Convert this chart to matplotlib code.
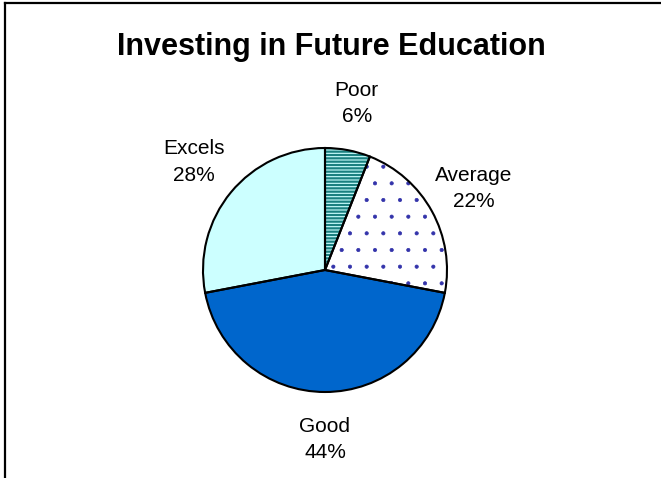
import numpy as np
import matplotlib
matplotlib.use("Agg")
import matplotlib.pyplot as plt
from matplotlib.lines import Line2D

plt.rcParams['font.family'] = ['Liberation Sans', 'DejaVu Sans']
plt.rcParams['hatch.linewidth'] = 1.6

categories = ['Poor', 'Average', 'Good', 'Excels']
shares = [6, 22, 44, 28]
face_colors = ['#CCFFFF', '#FFFFFF', '#0066CC', '#CCFFFF']
hatch_colors = ['#1A8080', '#3333AA', '#0066CC', '#CCFFFF']
hatches = ['-----', '.', '', '']
hatch_widths = [1.6, 0.5, 1.0, 1.0]

W, H = 661, 478
fig = plt.figure(figsize=(W / 100, H / 100), dpi=100)

# pie centre ~ (325, 270) px, radius ~ 122 px
cx, cy, r = 325, 270, 122
ax = fig.add_axes([(cx - r) / W, (H - cy - r) / H, 2 * r / W, 2 * r / H])

# fill + hatch pass
wedges, _ = ax.pie(shares, startangle=90, counterclock=False, radius=1,
                   colors=face_colors, frame=True)
for w, hc, h, hw in zip(wedges, hatch_colors, hatches, hatch_widths):
    w.set_hatch(h)
    w.set_edgecolor(hc)
    w.set_linewidth(0)
    if hasattr(w, 'set_hatch_linewidth'):
        w.set_hatch_linewidth(hw)

# outline pass with labels
labels = [f"{c}\n{s}%" for c, s in zip(categories, shares)]
wedges2, texts = ax.pie(shares, startangle=90, counterclock=False, radius=1,
                        labels=labels, labeldistance=1.39,
                        wedgeprops=dict(facecolor='none', edgecolor='black',
                                        linewidth=1.5),
                        textprops=dict(fontsize=15, linespacing=1.5),
                        frame=True)
for t in texts:
    t.set_ha('center')
    t.set_va('center')
ax.set_xlim(-1, 1)
ax.set_ylim(-1, 1)
ax.axis('off')

fig.text(331 / W, 1 - 47 / H, 'Investing in Future Education',
         ha='center', va='center', fontsize=22, fontweight='bold')

# chart border (top and left visible)
fig.add_artist(Line2D([5 / W, 5 / W], [0, 1 - 3 / H], color='black',
                      linewidth=1.6, transform=fig.transFigure))
fig.add_artist(Line2D([5 / W, 1], [1 - 3 / H, 1 - 3 / H], color='black',
                      linewidth=1.6, transform=fig.transFigure))

fig.savefig('out.png', dpi=100)
